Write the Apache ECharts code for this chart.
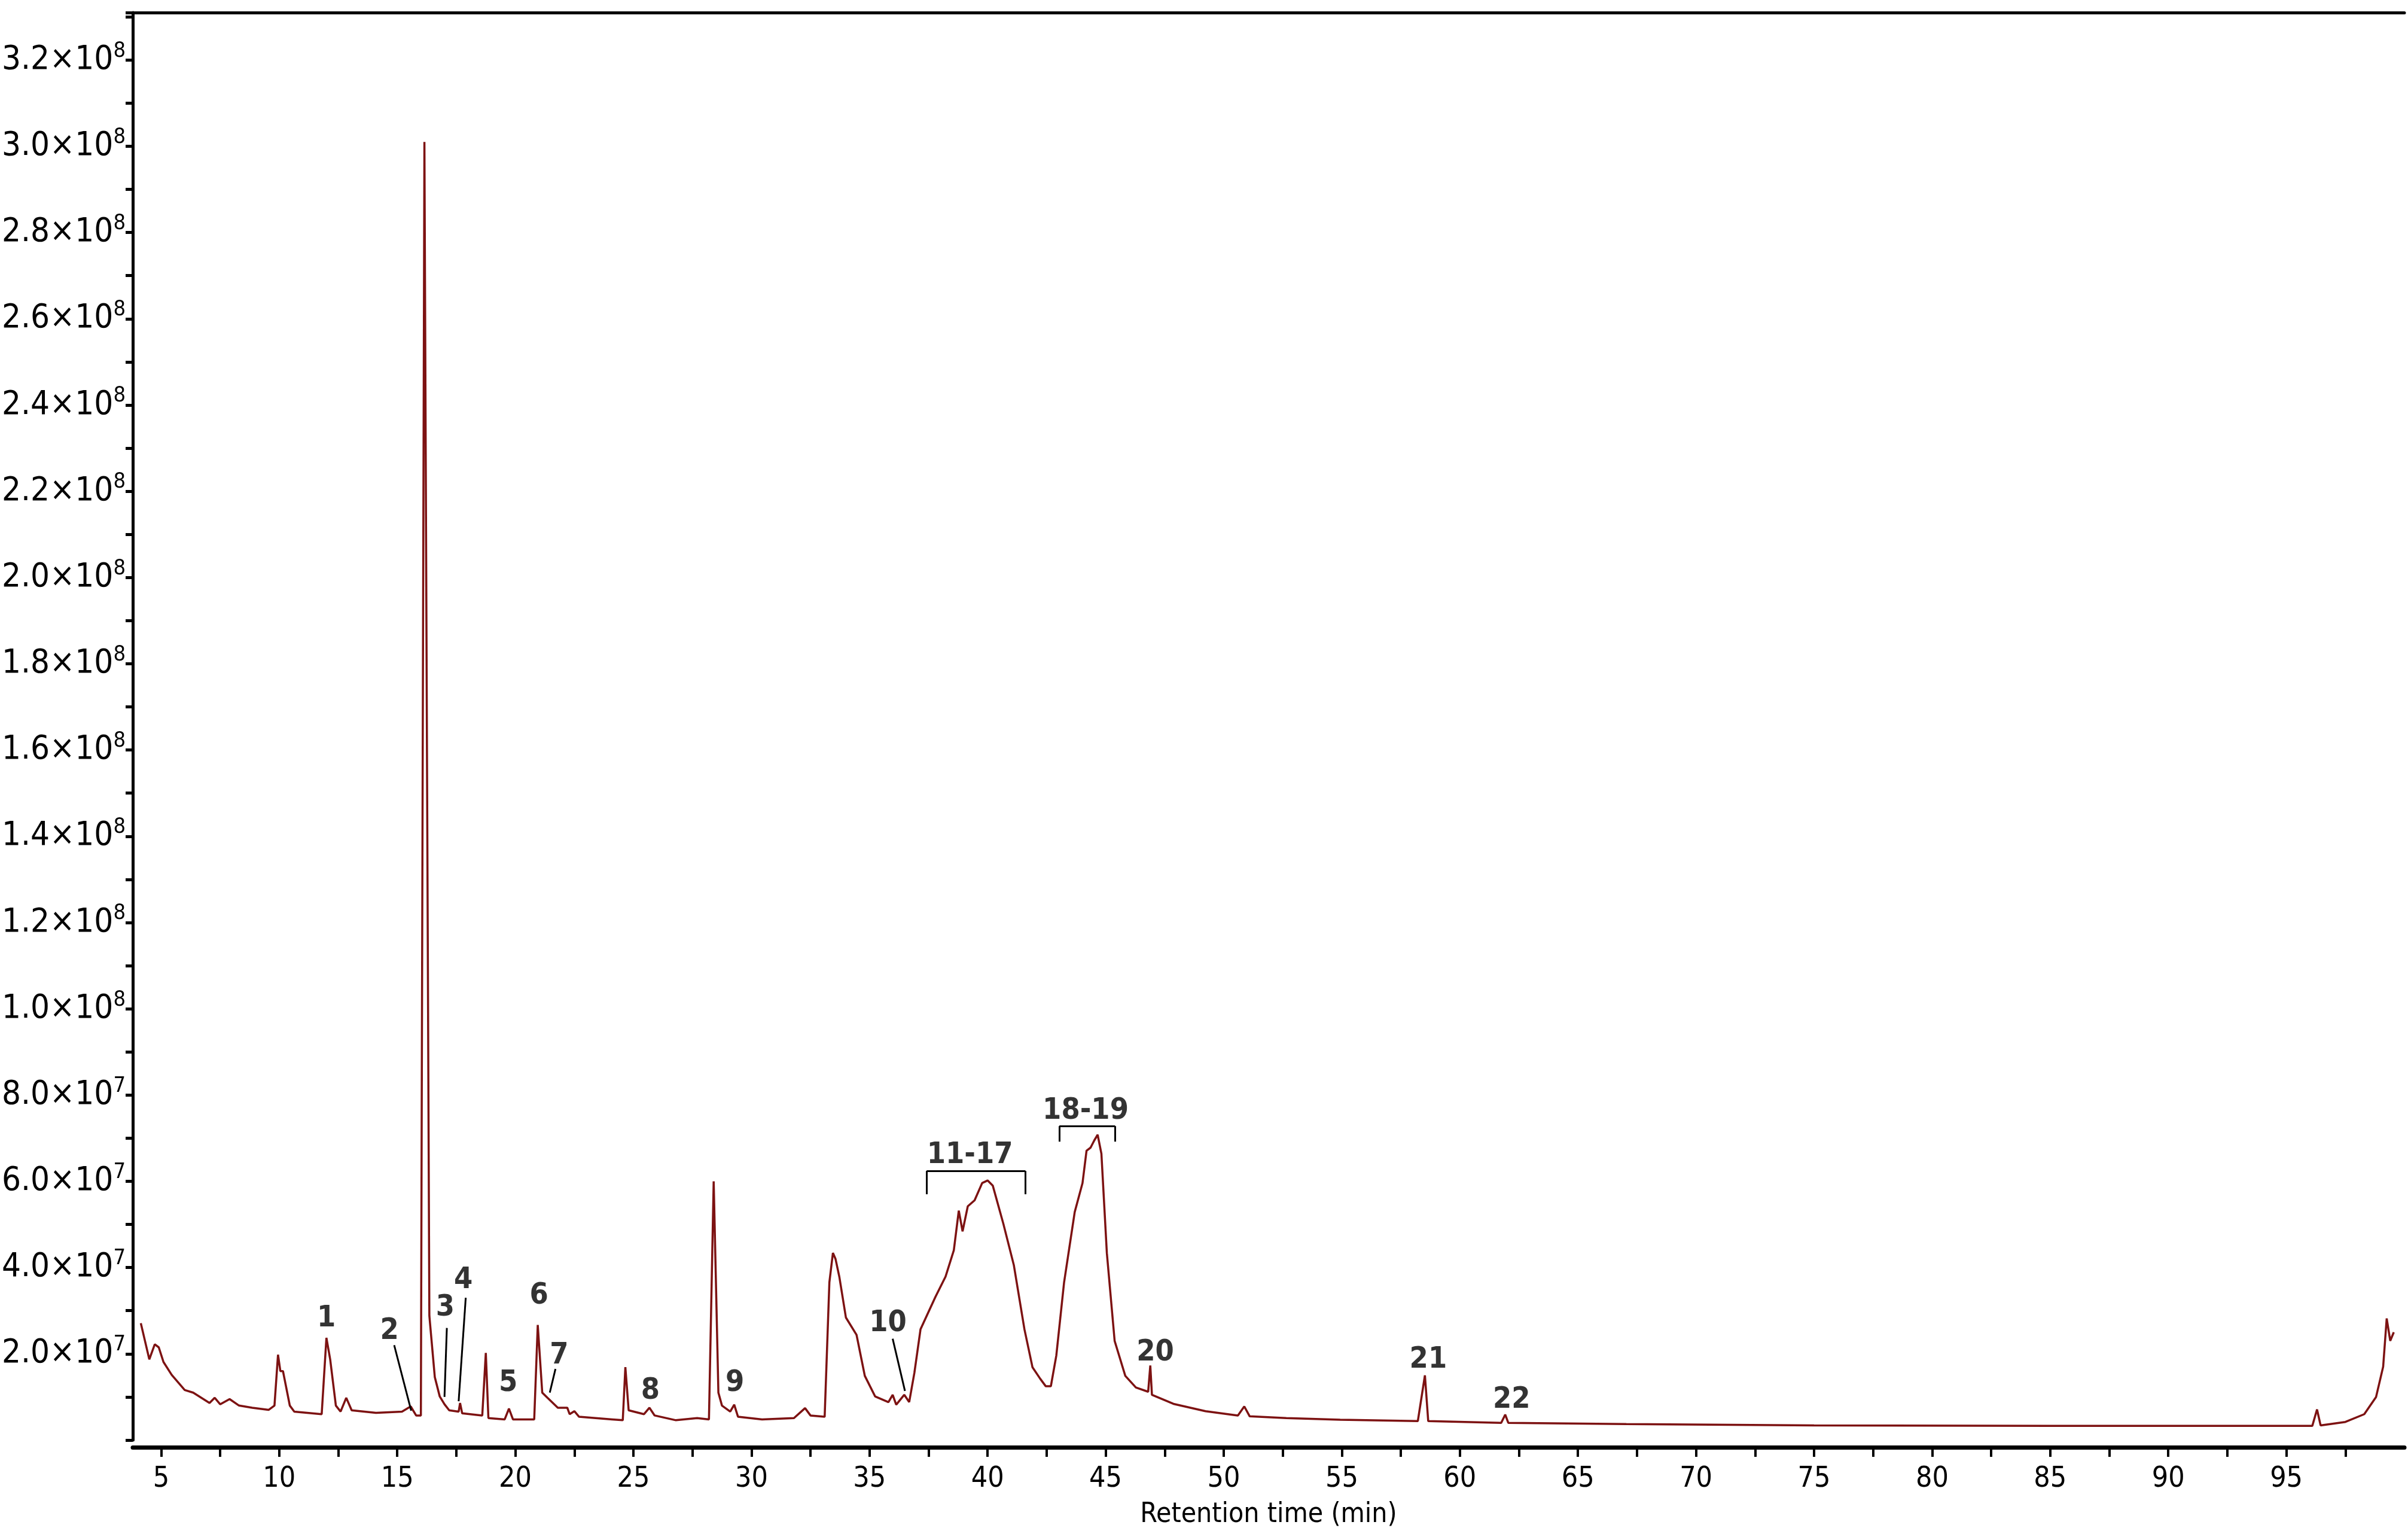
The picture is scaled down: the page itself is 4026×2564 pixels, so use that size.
<!DOCTYPE html>
<html>
<head>
<meta charset="utf-8">
<script src="https://cdn.jsdelivr.net/npm/echarts@6/dist/echarts.min.js"></script>
<style>html,body{margin:0;padding:0;background:#fff}#chart{width:4026px;height:2564px}</style>
</head>
<body>
<div id="chart"></div>
<script>
// 色谱数据: [保留时间 min, 强度 ×1e7]
const trace = [
  [4.14, 2.71], [4.5, 1.87], [4.73, 2.22], [4.9, 2.15], [5.1, 1.81], [5.45, 1.51], [6.0, 1.16], [6.36, 1.10],
  [7.05, 0.86], [7.27, 0.98], [7.5, 0.83], [7.9, 0.95], [8.3, 0.80], [8.86, 0.75], [9.55, 0.70], [9.8, 0.80],
  [9.95, 1.98], [10.05, 1.60], [10.16, 1.60], [10.45, 0.80], [10.64, 0.66], [11.8, 0.60], [12.0, 2.37],
  [12.16, 1.87], [12.4, 0.80], [12.6, 0.66], [12.84, 0.98], [13.07, 0.69], [14.1, 0.63], [15.2, 0.66],
  [15.57, 0.78], [15.8, 0.57], [16.0, 0.57], [16.15, 30.1], [16.36, 2.88], [16.59, 1.46], [16.8, 1.01],
  [17.0, 0.83], [17.2, 0.69], [17.6, 0.66], [17.66, 0.86], [17.75, 0.62], [18.6, 0.57], [18.75, 2.02],
  [18.86, 0.51], [19.55, 0.48], [19.73, 0.73], [19.9, 0.48], [20.8, 0.48], [20.95, 2.67], [21.14, 1.10],
  [21.36, 0.98], [21.8, 0.75], [22.2, 0.75], [22.3, 0.60], [22.5, 0.67], [22.7, 0.54], [24.1, 0.48],
  [24.55, 0.46], [24.66, 1.69], [24.8, 0.69], [25.45, 0.60], [25.68, 0.75], [25.9, 0.57], [26.8, 0.46],
  [27.7, 0.51], [28.2, 0.48], [28.4, 6.0], [28.6, 1.10], [28.75, 0.80], [29.1, 0.66], [29.27, 0.82],
  [29.43, 0.54], [30.45, 0.48], [31.8, 0.51], [32.27, 0.74], [32.5, 0.57], [33.1, 0.54], [33.3, 3.66],
  [33.45, 4.34], [33.56, 4.2], [33.72, 3.79], [34.0, 2.84], [34.45, 2.44], [34.8, 1.49], [35.24, 1.01],
  [35.8, 0.88], [35.98, 1.05], [36.13, 0.82], [36.47, 1.05], [36.68, 0.88], [36.9, 1.56], [37.16, 2.57],
  [37.79, 3.32], [38.22, 3.79], [38.57, 4.4], [38.78, 5.32], [38.94, 4.84], [39.16, 5.42], [39.45, 5.56],
  [39.77, 5.96], [40.0, 6.02], [40.22, 5.9], [40.67, 5.01], [41.11, 4.06], [41.56, 2.57], [41.9, 1.69],
  [42.23, 1.42], [42.46, 1.25], [42.68, 1.25], [42.91, 1.96], [43.24, 3.66], [43.69, 5.29], [44.02, 5.96],
  [44.19, 6.71], [44.36, 6.78], [44.52, 6.95], [44.66, 7.08], [44.82, 6.64], [45.05, 4.34], [45.38, 2.3],
  [45.83, 1.49], [46.28, 1.22], [46.8, 1.12], [46.89, 1.73], [46.96, 1.05], [47.87, 0.84], [49.23, 0.67],
  [50.6, 0.57], [50.87, 0.78], [51.1, 0.55], [52.65, 0.51], [54.93, 0.47], [58.22, 0.44], [58.52, 1.50],
  [58.66, 0.44], [61.75, 0.40], [61.92, 0.59], [62.05, 0.40], [67.05, 0.37], [75, 0.34], [85, 0.33],
  [96.1, 0.33], [96.3, 0.71], [96.45, 0.34], [97.5, 0.42], [98.3, 0.6], [98.8, 1.0], [99.1, 1.7],
  [99.25, 2.82], [99.4, 2.3], [99.55, 2.5]
]

// 峰标注
const annoText = ['1', '2', '3', '4', '5', '6', '7', '8', '9', '10', '11-17', '18-19', '20', '21', '22']
const annoX = [12.0, 14.67, 17.03, 17.8, 19.7, 21.0, 21.86, 25.72, 29.3, 35.78, 39.25, 44.15, 47.1, 58.66, 62.19]
const annoY = [2.82, 2.53, 3.07, 3.71, 1.32, 3.35, 1.96, 1.14, 1.32, 2.71, 6.6, 7.63, 2.03, 1.86, 0.93]

// 引线 [x1, y1, x2, y2]
const leaders = [
  [14.87, 2.2, 15.59, 0.68],
  [17.1, 2.6, 17.0, 1.0],
  [17.9, 3.3, 17.6, 0.9],
  [21.7, 1.65, 21.46, 1.1],
  [35.98, 2.35, 36.5, 1.14],
  // 11-17 括号
  [37.42, 5.7, 37.42, 6.24], [37.42, 6.24, 41.6, 6.24], [41.6, 6.24, 41.6, 5.7],
  // 18-19 括号
  [43.04, 6.92, 43.04, 7.28], [43.04, 7.28, 45.4, 7.28], [45.4, 7.28, 45.4, 6.92]
]

const xLabels = [5, 10, 15, 20, 25, 30, 35, 40, 45, 50, 55, 60, 65, 70, 75, 80, 85, 90, 95]
const xTicks = [5, 7.5, 10, 12.5, 15, 17.5, 20, 22.5, 25, 27.5, 30, 32.5, 35, 37.5, 40, 42.5, 45, 47.5,
  50, 52.5, 55, 57.5, 60, 62.5, 65, 67.5, 70, 72.5, 75, 77.5, 80, 82.5, 85, 87.5, 90, 92.5, 95, 97.5]

const font = '"DejaVu Sans Condensed", "Liberation Sans Narrow", "DejaVu Sans"'
const chart = echarts.init(document.getElementById('chart'))

const option = {
  backgroundColor: '#fff',
  animation: false,
  grid: { left: 219, right: 6, top: 21, bottom: 157 },
  xAxis: [{
    type: 'value', min: 3.8, max: 100, offset: 12,
    name: 'Retention time (min)', nameLocation: 'middle', nameGap: 90,
    nameTextStyle: { fontFamily: font, fontSize: 46, color: '#000' },
    axisLine: { onZero: false, lineStyle: { color: '#000', width: 7 } },
    axisTick: { customValues: xTicks, length: 16, lineStyle: { color: '#000', width: 4 } },
    axisLabel: { customValues: xLabels, margin: 30, fontFamily: font, fontSize: 48, color: '#000' },
    splitLine: { show: false }
  }, {
    type: 'value', position: 'top', min: 3.8, max: 100,
    axisLine: { show: true, onZero: false, lineStyle: { color: '#000', width: 5 } },
    axisTick: { show: false }, axisLabel: { show: false }, splitLine: { show: false }
  }],
  yAxis: {
    type: 'value', min: 0, max: 33.1, interval: 1,
    axisLine: { show: true, lineStyle: { color: '#000', width: 5 } },
    axisTick: { length: 12, lineStyle: { color: '#000', width: 5 } },
    axisLabel: {
      margin: 12, fontFamily: font, color: '#000',
      formatter: v => {
        if (v === 0 || Math.round(v) % 2 !== 0) return ''
        return v >= 10 ? '{b|' + (v / 10).toFixed(1) + '×10}{s|8}' : '{b|' + v.toFixed(1) + '×10}{s|7}'
      },
      rich: {
        b: { fontFamily: font, fontSize: 56, color: '#000' },
        s: { fontFamily: font, fontSize: 36, color: '#000', padding: [0, 0, 30, 0] }
      }
    },
    splitLine: { show: false }
  },
  series: [{
    type: 'line', data: trace, showSymbol: false, symbol: 'none',
    lineStyle: { color: '#7d1212', width: 3.5 }
  }, {
    type: 'scatter', symbolSize: 0, itemStyle: { color: 'rgba(0,0,0,0)' },
    data: annoText.map((t, i) => ({ name: t, value: [annoX[i], annoY[i]] })),
    label: {
      show: true, position: 'inside', formatter: p => p.name,
      fontFamily: font, fontWeight: 'bold', fontSize: 50, color: '#000'
    },
    markLine: {
      silent: true, symbol: 'none', animation: false,
      lineStyle: { color: '#000', width: 3, type: 'solid' },
      label: { show: false },
      data: leaders.map(s => [{ coord: [s[0], s[1]] }, { coord: [s[2], s[3]] }])
    }
  }]
}

option && chart.setOption(option, true)
</script>
</body>
</html>
